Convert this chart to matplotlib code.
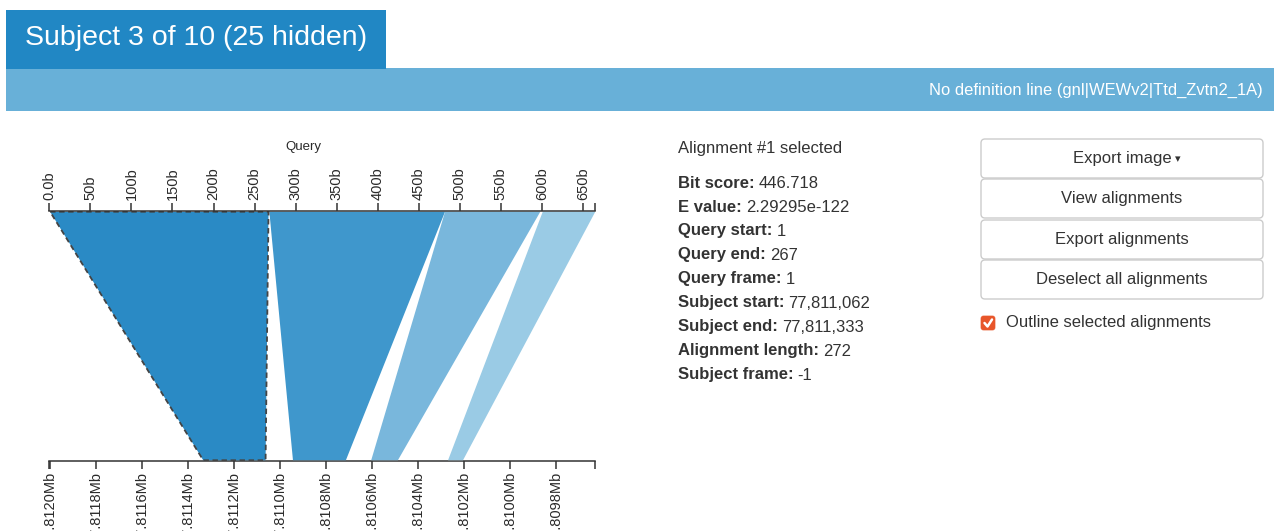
"""
BLAST-style graphical summary: query vs subject alignment (HSP) view.
"""

import numpy as np
import matplotlib.pyplot as plt
from matplotlib.patches import Polygon, FancyBboxPatch, Rectangle


# =========================================================
# DATA
# =========================================================

QUERY_LEN = 665
SUBJECT_HI = 77812002      # subject coordinate at the left end of the axis
SUBJECT_LO = 77809629      # subject coordinate at the right end of the axis

# HSPs (alignment #1 is the selected one)
q_start = [1, 268, 482, 601]
q_end = [267, 482, 598, 665]
s_start = [77811062, 77810713, 77810487, 77810204]
s_end = [77811333, 77810943, 77810603, 77810269]
hsp_colors = ["#2a8ac5", "#3f97cc", "#79b7dc", "#9acbe5"]

query_ticks = [0, 50, 100, 150, 200, 250, 300, 350, 400, 450, 500, 550, 600, 650]
query_tick_labels = ["0.0b", "50b", "100b", "150b", "200b", "250b", "300b",
                     "350b", "400b", "450b", "500b", "550b", "600b", "650b"]

subject_ticks = [77812000, 77811800, 77811600, 77811400, 77811200, 77811000,
                 77810800, 77810600, 77810400, 77810200, 77810000, 77809800]
subject_tick_labels = ["77.8120Mb", "77.8118Mb", "77.8116Mb", "77.8114Mb",
                       "77.8112Mb", "77.8110Mb", "77.8108Mb", "77.8106Mb",
                       "77.8104Mb", "77.8102Mb", "77.8100Mb", "77.8098Mb"]

title_text = "Subject 3 of 10 (25 hidden)"
defline_text = "No definition line (gnl|WEWv2|Ttd_Zvtn2_1A)"

info_title = "Alignment #1 selected"
info_keys = ["Bit score:", "E value:", "Query start:", "Query end:",
             "Query frame:", "Subject start:", "Subject end:",
             "Alignment length:", "Subject frame:"]
info_values = ["446.718", "2.29295e-122", "1", "267", "1",
               "77,811,062", "77,811,333", "272", "-1"]

button_labels = ["Export image", "View alignments",
                 "Export alignments", "Deselect all alignments"]
checkbox_label = "Outline selected alignments"


# =========================================================
# FIGURE + PAGE LAYER (pixel coordinates, y down)
# =========================================================

W, H = 1274, 531
fig = plt.figure(figsize=(W / 100, H / 100), dpi=100)
plt.rcParams["font.family"] = ["Liberation Sans", "DejaVu Sans"]

ui = fig.add_axes([0, 0, 1, 1])
ui.set_xlim(0, W)
ui.set_ylim(H, 0)
ui.axis("off")

# header tab and definition bar
ui.add_patch(Rectangle((6, 68), W - 6, 43, color="#68b0d8", lw=0))
ui.add_patch(Rectangle((6, 10), 380, 59, color="#2187c4", lw=0))
ui.text(25, 38, title_text, color="white", fontsize=20.5,
        ha="left", va="center")
ui.text(1263, 90, defline_text, color="white", fontsize=11.85,
        ha="right", va="center")

# alignment details
text_color = "#333333"
ui.text(678, 148, info_title, color=text_color, fontsize=12,
        ha="left", va="center")
renderer = fig.canvas.get_renderer()
for i, (key, val) in enumerate(zip(info_keys, info_values)):
    y = 183 + 24 * i
    t = ui.text(678, y, key, color=text_color, fontsize=12,
                fontweight="bold", ha="left", va="center")
    bb = t.get_window_extent(renderer)
    ui.text(bb.x1 + 4, y, val, color=text_color, fontsize=12,
            ha="left", va="center")

# buttons
button_tops = [139, 179, 220, 260]
button_bottoms = [178, 218, 259, 299]
for label, top, bottom in zip(button_labels, button_tops, button_bottoms):
    ui.add_patch(FancyBboxPatch((981, top), 282, bottom - top,
                                boxstyle="round,pad=0,rounding_size=4",
                                facecolor="white", edgecolor="#cccccc",
                                lw=1.0))
    t = ui.text(1122, (top + bottom) / 2, label, color=text_color,
                fontsize=12, ha="center", va="center")
    if label == "Export image":
        # small dropdown caret
        bb = t.get_window_extent(renderer)
        ui.text(bb.x1 + 4, (top + bottom) / 2 + 1, "\u25BE",
                color=text_color, fontsize=8, ha="left", va="center",
                family=["DejaVu Sans"])

# checkbox
ui.add_patch(FancyBboxPatch((981, 316), 14, 14,
                            boxstyle="round,pad=0,rounding_size=2.5",
                            facecolor="#e8562a", edgecolor="#e8562a", lw=0.5))
ui.plot([984.5, 987.5, 992], [323, 326.5, 319.5], color="white", lw=1.8,
        solid_capstyle="round")
ui.text(1006, 322, checkbox_label, color=text_color, fontsize=12,
        ha="left", va="center")


# =========================================================
# ALIGNMENT CHART
# =========================================================

def q2s(q):
    return SUBJECT_HI - np.asarray(q) * (SUBJECT_HI - SUBJECT_LO) / QUERY_LEN


def s2q(s):
    return (SUBJECT_HI - np.asarray(s)) * QUERY_LEN / (SUBJECT_HI - SUBJECT_LO)


left, right = 49.3 / W, 595.3 / W
bottom, top = (H - 461) / H, (H - 211) / H
ax = fig.add_axes([left, bottom, right - left, top - bottom])
ax.patch.set_alpha(0)
ax.set_xlim(0, QUERY_LEN)
ax.set_ylim(0, 1)
ax.set_yticks([])
for side in ["left", "right", "bottom"]:
    ax.spines[side].set_visible(False)
ax.spines["top"].set_color("#333333")
ax.spines["top"].set_linewidth(1.1)

# HSP polygons: query on top edge, subject on bottom edge
for i in range(len(q_start)):
    xb = sorted(s2q([s_start[i], s_end[i]]))
    verts = [(q_start[i], 0.997), (q_end[i], 0.997),
             (xb[1], 0.003), (xb[0], 0.003)]
    ax.add_patch(Polygon(verts, closed=True, facecolor=hsp_colors[i],
                         edgecolor="none", zorder=1))
    if i == 0:
        ax.add_patch(Polygon(verts, closed=True, facecolor="none",
                             edgecolor="#444444", lw=1.3,
                             linestyle=(0, (3, 2)), zorder=2))

# query axis (top)
ax.xaxis.set_ticks_position("top")
ax.set_xticks(query_ticks, labels=query_tick_labels)
ax.set_xticks([0, QUERY_LEN], minor=True)
ax.tick_params(axis="x", which="both", direction="out", length=6, width=1.1,
               color="#333333", pad=2, labelsize=10.5, labelcolor="#2a2a2a",
               labelrotation=90, top=True, bottom=False,
               labeltop=True, labelbottom=False)
ax.text(0.466, 1.256, "Query", transform=ax.transAxes, fontsize=9.5,
        color="#2a2a2a", ha="center", va="center")

# subject axis (bottom); labels run off the lower edge as in the page
sec = ax.secondary_xaxis("bottom", functions=(q2s, s2q))
sec.set_xticks(subject_ticks, labels=subject_tick_labels)
sec.set_xticks([SUBJECT_HI, SUBJECT_LO], minor=True)
sec.tick_params(axis="x", which="both", direction="out", length=6, width=1.1,
                color="#333333", pad=2, labelsize=10.5, labelcolor="#2a2a2a",
                labelrotation=90)
sec.spines["bottom"].set_color("#333333")
sec.spines["bottom"].set_linewidth(1.1)

fig.savefig("out.png", dpi=100)
